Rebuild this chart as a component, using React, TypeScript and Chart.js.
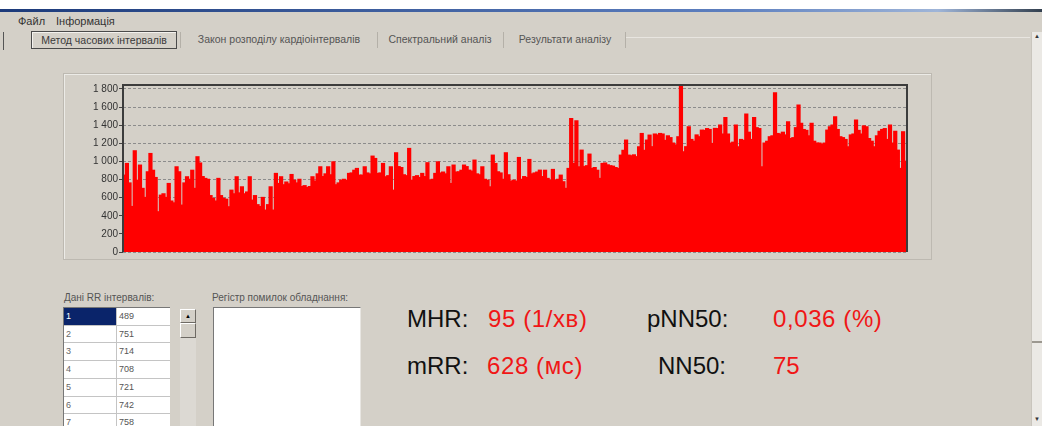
import React, { useEffect, useRef } from "react";
import { Chart, registerables } from "chart.js";

Chart.register(...registerables);

// RR interval series (ms), left to right, in four stretches
const RR_PART_1 = [
  846, 975, 760, 500, 1115, 790, 957, 700, 600, 883, 1085, 900, 820, 442, 625,
  640, 600, 754, 560, 540, 938, 883, 515, 760, 828, 800, 900, 700, 1049, 980,
  830, 810, 800, 620, 590, 560, 810, 620, 590, 580, 497, 680, 640, 828, 650,
  717, 640, 660, 828, 570, 620, 520, 500, 600, 460, 520, 717, 460, 865, 754,
  828, 740, 770, 750, 853, 790, 760, 800, 720, 730, 710, 720, 828, 780, 860,
];
const RR_PART_2 = [
  938, 830, 860, 938, 850, 993, 740, 760, 790, 800, 790, 865, 870, 900, 920,
  846, 846, 938, 870, 860, 1056, 1030, 865, 870, 975, 828, 840, 938, 680, 1093,
  940, 930, 850, 840, 1141, 790, 830, 840, 820, 865, 830, 983, 790, 800, 865,
  993, 870, 880, 860, 938, 754, 957, 880, 883, 900, 957, 940, 901, 890, 1012,
  860, 850, 938, 800, 790, 717, 1067, 975, 883, 870, 800, 1093, 850, 780, 790,
];
const RR_PART_3 = [
  780, 1041, 800, 830, 820, 1019, 860, 870, 880, 901, 830, 900, 810, 790, 909,
  790, 800, 846, 773, 700, 920, 1472, 975, 1446, 938, 1122, 940, 950, 1078, 920,
  930, 900, 810, 975, 980, 960, 950, 945, 930, 920, 1067, 1120, 1233, 1067, 1060,
  1070, 1050, 1159, 1306, 1120, 1233, 1288, 1160, 1300, 1290, 1306, 1300, 1230, 1280, 1260,
  1200, 1180, 1270, 1829, 1104, 1160, 1380, 1240, 1220, 1290, 1270, 1343, 1340, 1360, 1350,
];
const RR_PART_4 = [
  1196, 1362, 1360, 1398, 1300, 1483, 1300, 1200, 1210, 1398, 1159, 1240, 1230, 1520, 1320,
  1240, 1483, 1370, 1360, 938, 1200, 1220, 1270, 1280, 1755, 1306, 1300, 1320, 1290, 1435,
  1250, 1260, 1370, 1619, 1417, 1350, 1340, 1280, 1417, 1220, 1200, 1200, 1190, 1200, 1343,
  1380, 1400, 1490, 1350, 1270, 1260, 1240, 1159, 1290, 1300, 1454, 1340, 1300, 1390, 1380,
  1250, 1220, 1159, 1280, 1330, 1350, 1360, 1240, 1398, 1200, 1330, 1122, 920, 1325, 1000,
];

const RR_SERIES = [...RR_PART_1, ...RR_PART_2, ...RR_PART_3, ...RR_PART_4];
const RR_LABELS = RR_SERIES.map((_, i) => String(i + 1));

const Y_TICK_VALUES = [0, 200, 400, 600, 800, 1000, 1200, 1400, 1600, 1800];
const Y_MAX = 1844;

// table "Дані RR інтервалів"
const TABLE_INDEX = ["1", "2", "3", "4", "5", "6", "7", "8"];
const TABLE_VALUES = ["489", "751", "714", "708", "721", "742", "758", "760"];

// tabs and menu
const MENU_ITEMS = ["Файл", "Інформація"];
const TAB_LABELS = [
  "Метод часових інтервалів",
  "Закон розподілу кардіоінтервалів",
  "Спектральний аналіз",
  "Результати аналізу",
];

// indicators
const METRIC_MHR = "95 (1/хв)";
const METRIC_MRR = "628 (мс)";
const METRIC_PNN50 = "0,036 (%)";
const METRIC_NN50 = "75";

const BG = "#d4d0c8";
const FONT = "'Liberation Sans', Arial, sans-serif";

function fmtThousands(v: number): string {
  const s = String(Math.round(v));
  return s.replace(/\B(?=(\d{3})+(?!\d))/g, " ");
}

const framePlugin = {
  id: "plotFrame",
  afterDatasetsDraw(chart: any) {
    const { ctx, chartArea } = chart;
    ctx.save();
    ctx.strokeStyle = "#3c3c3c";
    ctx.lineWidth = 2;
    ctx.beginPath();
    ctx.moveTo(chartArea.left, chartArea.bottom);
    ctx.lineTo(chartArea.left, chartArea.top);
    ctx.lineTo(chartArea.right, chartArea.top);
    ctx.lineTo(chartArea.right, chartArea.bottom);
    ctx.stroke();
    ctx.restore();
  },
};

function RRChart() {
  const ref = useRef<HTMLCanvasElement | null>(null);
  useEffect(() => {
    if (!ref.current) return;
    const chart = new Chart(ref.current, {
      type: "bar",
      data: {
        labels: RR_LABELS,
        datasets: [
          {
            data: RR_SERIES,
            backgroundColor: "#ff0000",
            borderWidth: 0,
            barPercentage: 1,
            categoryPercentage: 1,
            inflateAmount: 0.8,
          } as any,
        ],
      },
      options: {
        animation: false,
        responsive: false,
        maintainAspectRatio: false,
        layout: { padding: { left: 0, right: 26, top: 12, bottom: 11 } },
        plugins: { legend: { display: false }, tooltip: { enabled: false } },
        scales: {
          x: { display: false, grid: { display: false } },
          y: {
            min: 0,
            max: Y_MAX,
            afterFit: (scale: any) => {
              scale.width = 60;
            },
            afterBuildTicks: (scale: any) => {
              scale.ticks = Y_TICK_VALUES.map((v) => ({ value: v }));
            },
            border: { display: false, dash: [3, 2] },
            grid: {
              color: "#8c8c8c",
              drawTicks: true,
              tickLength: 4,
              tickColor: "#444",
              tickBorderDash: [],
            },
            ticks: {
              padding: 1,
              color: "#333",
              font: { family: "'Liberation Sans', Arial, sans-serif", size: 10 },
              callback: (v: any) => fmtThousands(Number(v)),
            },
          },
        },
      },
      plugins: [framePlugin],
    });
    return () => chart.destroy();
  }, []);
  return <canvas ref={ref} width={870} height={190} style={{ display: "block" }} />;
}

const abs = (s: React.CSSProperties): React.CSSProperties => ({ position: "absolute", ...s });

export default function App() {
  const rowH = 17.7;
  const tabPos = [
    { left: 31, width: 146 },
    { left: 186, width: 186 },
    { left: 382, width: 116 },
    { left: 509, width: 112 },
  ];
  const seps = [180, 377, 503, 625];
  const menuX = [18, 56];
  return (
    <div
      style={{
        position: "fixed",
        left: 0,
        top: 0,
        width: 1042,
        height: 426,
        background: BG,
        overflow: "hidden",
        fontFamily: FONT,
      }}
    >
      {/* title bar remnant */}
      <div style={abs({ left: 0, top: 0, width: 1042, height: 9, background: "#ffffff" })} />
      <div
        style={abs({
          left: 0,
          top: 9,
          width: 1042,
          height: 3,
          background: "linear-gradient(to right, #1c3a7a, #5d7fbf 70%, #9fb5d8 90%, #33404f)",
        })}
      />

      {/* menu */}
      {MENU_ITEMS.map((m, i) => (
        <div key={m} style={abs({ left: menuX[i], top: 15, fontSize: 11, color: "#333" })}>
          {m}
        </div>
      ))}

      {/* left edge mark */}
      <div style={abs({ left: 3, top: 32, width: 1, height: 18, background: "#555" })} />
      <div style={abs({ left: 625, top: 37, width: 405, height: 1, background: "#e8e5e0" })} />

      {/* tabs */}
      {TAB_LABELS.map((t, i) => (
        <div
          key={t}
          style={abs({
            left: tabPos[i].left,
            top: 31,
            width: tabPos[i].width,
            height: 18,
            boxSizing: "border-box",
            border: i === 0 ? "1px solid #4a4a4a" : "none",
            boxShadow: i === 0 ? "inset 1px 1px 0 #f4f2ee" : "none",
            fontSize: 10.5,
            lineHeight: "16px",
            color: i === 0 ? "#3a3a3a" : "#555",
            textAlign: "center",
            whiteSpace: "nowrap",
          })}
        >
          {t}
        </div>
      ))}
      {seps.map((x) => (
        <div key={x} style={abs({ left: x, top: 32, width: 1, height: 16, background: "#b4b0a8" })} />
      ))}

      {/* chart panel */}
      <div
        style={abs({
          left: 63,
          top: 73,
          width: 869,
          height: 187,
          boxSizing: "border-box",
          border: "1px solid #bdb9b1",
          boxShadow: "inset 1px 1px 0 #ecebe7",
        })}
      />
      <div style={abs({ left: 63, top: 73, width: 870, height: 190 })}>
        <RRChart />
      </div>

      {/* RR data table */}
      <div style={abs({ left: 64, top: 292, fontSize: 10, color: "#555", whiteSpace: "nowrap" })}>
        Дані RR інтервалів:
      </div>
      <div
        style={abs({
          left: 63,
          top: 307,
          width: 106,
          height: 130,
          background: "#fff",
          borderLeft: "1px solid #777",
          borderTop: "1px solid #777",
        })}
      >
        {TABLE_INDEX.map((idx, r) => (
          <React.Fragment key={idx}>
            <div
              style={abs({
                left: 0,
                top: r * rowH,
                width: 52,
                height: rowH - 1,
                background: r === 0 ? "#0a246a" : "#fff",
                color: r === 0 ? "#fff" : "#666",
                fontSize: 9,
                lineHeight: `${rowH - 1}px`,
                paddingLeft: 2,
                boxSizing: "border-box",
              })}
            >
              {idx}
            </div>
            <div
              style={abs({
                left: 53,
                top: r * rowH,
                width: 53,
                height: rowH - 1,
                color: "#555",
                fontSize: 9,
                lineHeight: `${rowH - 1}px`,
                paddingLeft: 2,
                boxSizing: "border-box",
              })}
            >
              {TABLE_VALUES[r]}
            </div>
            <div style={abs({ left: 0, top: (r + 1) * rowH - 1, width: 106, height: 1, background: "#c4c4c4" })} />
          </React.Fragment>
        ))}
        <div style={abs({ left: 52, top: 0, width: 1, height: 140, background: "#c4c4c4" })} />
      </div>
      {/* table scrollbar */}
      <div style={abs({ left: 180, top: 309, width: 16, height: 120, background: "#dcd9d3" })} />
      <div
        style={abs({
          left: 180,
          top: 309,
          width: 16,
          height: 14,
          boxSizing: "border-box",
          background: BG,
          border: "1px solid",
          borderColor: "#fff #6e6a64 #6e6a64 #fff",
          fontSize: 6,
          textAlign: "center",
          lineHeight: "12px",
          color: "#000",
        })}
      >
        ▲
      </div>
      <div
        style={abs({
          left: 180,
          top: 323,
          width: 16,
          height: 15,
          boxSizing: "border-box",
          background: BG,
          border: "1px solid",
          borderColor: "#fff #6e6a64 #6e6a64 #fff",
        })}
      />

      {/* error log */}
      <div style={abs({ left: 212, top: 292, fontSize: 10, color: "#555", whiteSpace: "nowrap" })}>
        Регістр помилок обладнання:
      </div>
      <div
        style={abs({
          left: 213,
          top: 307,
          width: 148,
          height: 130,
          background: "#fff",
          boxSizing: "border-box",
          borderLeft: "1px solid #777",
          borderTop: "1px solid #777",
          borderRight: "1px solid #e8e6e2",
        })}
      />

      {/* indicators */}
      <div style={abs({ left: 407, top: 307, fontSize: 24, lineHeight: "24px", color: "#111", whiteSpace: "nowrap" })}>
        MHR:
      </div>
      <div style={abs({ left: 488, top: 307, fontSize: 24, lineHeight: "24px", color: "#f01616", whiteSpace: "nowrap", letterSpacing: 0.6 })}>
        {METRIC_MHR}
      </div>
      <div style={abs({ left: 647, top: 307, fontSize: 24, lineHeight: "24px", color: "#111", whiteSpace: "nowrap" })}>
        pNN50:
      </div>
      <div style={abs({ left: 773, top: 307, fontSize: 24, lineHeight: "24px", color: "#f01616", whiteSpace: "nowrap", letterSpacing: 0.6 })}>
        {METRIC_PNN50}
      </div>
      <div style={abs({ left: 407, top: 354, fontSize: 24, lineHeight: "24px", color: "#111", whiteSpace: "nowrap" })}>
        mRR:
      </div>
      <div style={abs({ left: 487, top: 354, fontSize: 24, lineHeight: "24px", color: "#f01616", whiteSpace: "nowrap", letterSpacing: 0.6 })}>
        {METRIC_MRR}
      </div>
      <div style={abs({ left: 658, top: 354, fontSize: 24, lineHeight: "24px", color: "#111", whiteSpace: "nowrap" })}>
        NN50:
      </div>
      <div style={abs({ left: 773, top: 354, fontSize: 24, lineHeight: "24px", color: "#f01616", whiteSpace: "nowrap" })}>
        {METRIC_NN50}
      </div>

      {/* right window scrollbar */}
      <div
        style={abs({
          left: 1031,
          top: 32,
          width: 11,
          height: 394,
          background: "#ebe9e5",
          borderLeft: "1px solid #c9c5bd",
        })}
      />
      <div style={abs({ left: 1032, top: 33, width: 10, fontSize: 6, color: "#333", textAlign: "center" })}>▲</div>
      <div style={abs({ left: 1032, top: 341, width: 10, height: 2, background: "#9c9890" })} />
      <div style={abs({ left: 1032, top: 416, width: 10, fontSize: 6, color: "#333", textAlign: "center" })}>▼</div>
    </div>
  );
}
